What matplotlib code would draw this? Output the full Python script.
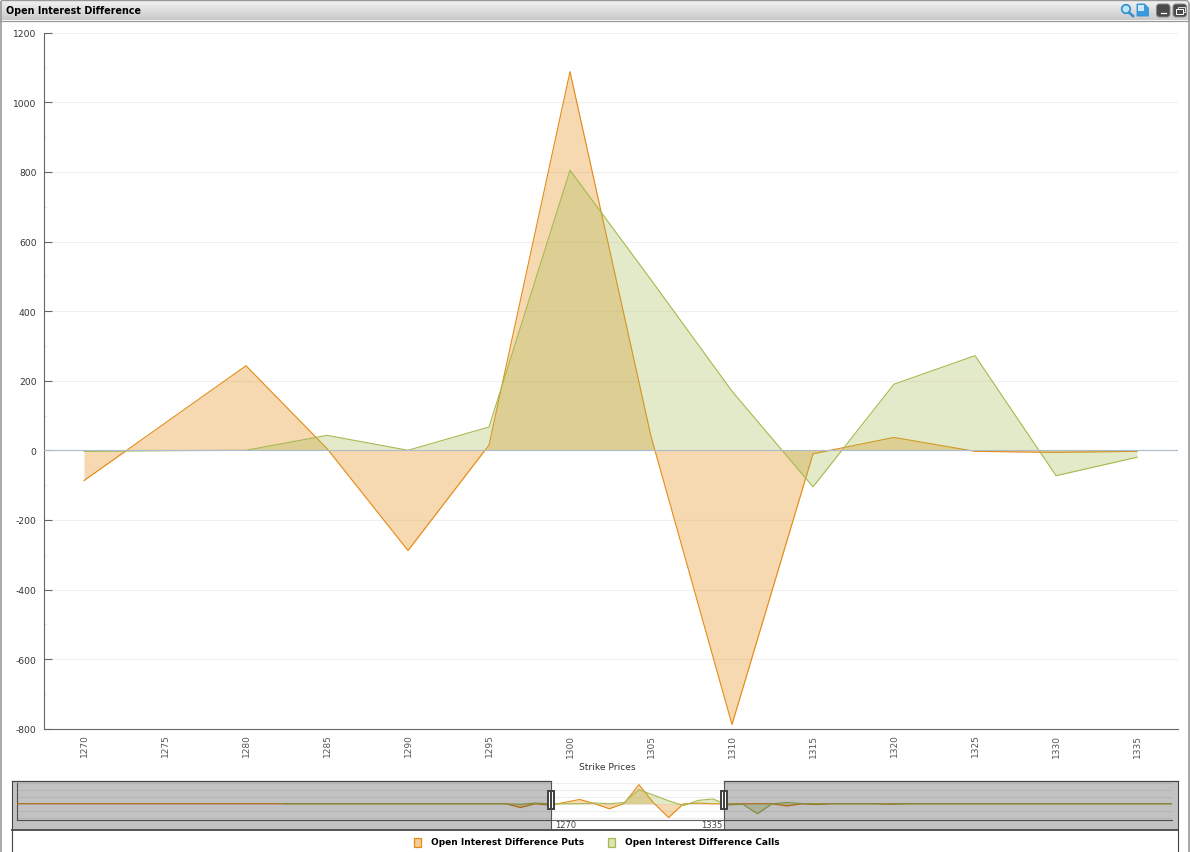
import numpy as np
import matplotlib
matplotlib.use("Agg")
import matplotlib.pyplot as plt
from matplotlib.patches import Rectangle, FancyBboxPatch, Circle, Polygon

W, H = 1190, 853
ORANGE = '#E48A13'
GREEN = '#A5BA4E'
PUT_ALPHA = 0.33
CALL_ALPHA = 0.30

title = 'Open Interest Difference'
x_label = 'Strike Prices'
put_label = 'Open Interest Difference Puts'
call_label = 'Open Interest Difference Calls'

strikes = [1270, 1275, 1280, 1285, 1290, 1295, 1300, 1305, 1310, 1315, 1320, 1325, 1330, 1335]
puts = [-87, 78, 243, 5, -288, 15, 1088, 40, -788, -10, 37, -3, -6, -3]
calls = [-3, -1, 0, 43, 0, 67, 805, 490, 170, -105, 190, 272, -73, -20]

y_major = [-800, -600, -400, -200, 0, 200, 400, 600, 800, 1000, 1200]
y_minor = [-700, -500, -300, -100, 100, 300, 500, 700, 900, 1100]

# overview strip covers the whole chain, calls only start at 1180
mini_strikes = list(range(1090, 1485, 5))
mini_puts = [0] * 34 + [-220, 0] + puts + [0, 0, -130, 0, -45, 0, 0, 0, 0, -30] + [0] * 19
mini_calls = [np.nan] * 18 + [0] * 16 + [-30, 40] + calls + [-570, 0, 70, 10] + [0] * 25
mini_grid = [-800, -400, 0, 400, 800, 1200]
range_labels = ['1270', '1335']

plt.rcParams['font.family'] = ['DejaVu Sans']
plt.rcParams['axes.unicode_minus'] = False


def px_axes(fig, left, top, right, bottom):
    return fig.add_axes([left / W, 1 - bottom / H, (right - left) / W, (bottom - top) / H])


def draw_series(ax, x, y, color, alpha, lw=0.8, zorder=3):
    ax.fill_between(x, y, 0, color=color, alpha=alpha, linewidth=0, zorder=zorder)
    ax.plot(x, y, color=color, lw=lw, zorder=zorder + 0.5)


fig = plt.figure(figsize=(W / 100, H / 100), dpi=100, facecolor='white')

# main chart
ax = px_axes(fig, 43.5, 33.7, 1177.5, 729.7)
draw_series(ax, strikes, puts, ORANGE, PUT_ALPHA)
draw_series(ax, strikes, calls, GREEN, CALL_ALPHA, zorder=4)
ax.axhline(0, color='#ADBCCB', lw=0.8, zorder=5)
ax.set_xlim(strikes[0] - 2.5, strikes[-1] + 2.5)
ax.set_ylim(-800, 1200)
ax.set_xticks(strikes)
ax.set_xticklabels(strikes, rotation=90, fontsize=6.5, color='#555555')
ax.set_yticks(y_major)
ax.set_yticks(y_minor, minor=True)
ax.tick_params(axis='x', length=0, pad=3.5)
ax.tick_params(axis='y', which='major', direction='in', length=6, width=0.8, color='#666666',
               labelsize=6.6, labelcolor='#333333', pad=5)
ax.tick_params(axis='y', which='minor', direction='in', length=1.5, width=0.7, color='#DDDDDD')
ax.grid(axis='y', which='major', color='#F0F0F0', lw=0.8, zorder=0)
ax.set_axisbelow(True)
for side in ('top', 'right'):
    ax.spines[side].set_visible(False)
for side in ('left', 'bottom'):
    ax.spines[side].set_color('#666666')
    ax.spines[side].set_linewidth(0.8)

# overview strip
mini = px_axes(fig, 17, 783.7, 1172, 821.2)
draw_series(mini, mini_strikes, mini_puts, ORANGE, PUT_ALPHA, lw=0.8)
draw_series(mini, mini_strikes, mini_calls, GREEN, CALL_ALPHA, lw=0.8, zorder=4)
mini.set_xlim(mini_strikes[0], mini_strikes[-1])
mini.set_ylim(-940, 1200)
mini.set_xticks([])
mini.set_yticks(mini_grid)
mini.set_yticklabels([])
mini.tick_params(length=0)
mini.grid(axis='y', color='#EEEEEE', lw=0.8, zorder=0)
mini.set_axisbelow(True)
mini.patch.set_alpha(0)
for side in ('top', 'right'):
    mini.spines[side].set_visible(False)
for side in ('left', 'bottom'):
    mini.spines[side].set_color('#666666')
    mini.spines[side].set_linewidth(0.8)

# window chrome, in screenshot pixels
over = fig.add_axes([0, 0, 1, 1], zorder=10)
over.set_xlim(0, W)
over.set_ylim(H, 0)
over.axis('off')
over.patch.set_alpha(0)

grad = np.linspace(0.96, 0.79, 32).reshape(-1, 1)
over.imshow(grad, extent=(0, W, 21, 0), cmap='gray', vmin=0, vmax=1, aspect='auto', zorder=1)
over.set_xlim(0, W)
over.set_ylim(H, 0)
over.plot([0.5, 0.5], [3, H], color='#999999', lw=1.2, zorder=2)
over.plot([1188.5, 1188.5], [3, H], color='#999999', lw=1.2, zorder=2)
over.plot([3, 1186], [0.5, 0.5], color='#999999', lw=1, zorder=2)
over.plot([0, W], [21.5, 21.5], color='#999999', lw=0.9, zorder=2)
# rounded top corners
over.add_patch(Polygon([(0, 0), (3.5, 0), (0, 3.5)], fc='white', ec='none', zorder=2))
over.add_patch(Polygon([(W, 0), (1185.5, 0), (1189, 3.5), (W, 3.5)], fc='white', ec='none', zorder=2))
over.plot([0.5, 3], [3, 0.5], color='#999999', lw=1, zorder=3)
over.plot([1186, 1188.5], [0.5, 3], color='#999999', lw=1, zorder=3)
over.text(6, 11, title, fontsize=6.9, fontweight='bold', color='black', va='center', ha='left', zorder=3)

# toolbar icons
over.add_patch(Circle((1126, 10), 4.3, fc='#BFE3F7', ec='#2F8FD0', lw=1.2, zorder=3))
over.plot([1129, 1133], [13.5, 17], color='#2F8FD0', lw=1.8, zorder=3)
over.add_patch(Polygon([(1137, 5), (1144.5, 5), (1148.5, 9), (1148.5, 17), (1137, 17)],
                       fc='#3C9BDC', ec='#2F8FD0', lw=0.6, zorder=3))
over.add_patch(Rectangle((1138, 6), 6, 6, fc='#CFE9F9', ec='none', zorder=4))
for bx, mark in ((1156.5, 'min'), (1173, 'max')):
    over.add_patch(FancyBboxPatch((bx, 5), 13.5, 13, boxstyle='round,pad=0,rounding_size=3',
                                  fc='#4A4A4A', ec='#888888', lw=0.7, zorder=3))
    if mark == 'min':
        over.plot([bx + 4, bx + 9.5], [13.5, 13.5], color='white', lw=0.9, zorder=4)
    else:
        over.add_patch(Rectangle((bx + 4.5, 7.5), 7, 5, fc='none', ec='#DDDDDD', lw=0.7, zorder=4))
        over.add_patch(Rectangle((bx + 2.5, 10), 7, 5, fc='#4A4A4A', ec='white', lw=0.7, zorder=5))

over.text(607.5, 767.5, x_label, fontsize=6.6, color='#333333', ha='center', va='center', zorder=3)

# shaded parts of the overview and its frame
over.add_patch(Rectangle((11.5, 781.5), 539.5, 48.5, fc='black', alpha=0.24, ec='none', zorder=2))
over.add_patch(Rectangle((724, 781.5), 453.5, 48.5, fc='black', alpha=0.24, ec='none', zorder=2))
over.plot([11.5, 551], [781.5, 781.5], color='#444444', lw=0.9, zorder=3)
over.plot([724, 1177.5], [781.5, 781.5], color='#444444', lw=0.9, zorder=3)
over.plot([11.5, 1177.5], [830.5, 830.5], color='#444444', lw=1.3, zorder=3)
over.plot([11.5, 11.5], [781.5, H], color='#444444', lw=0.8, zorder=3)
over.plot([1177.5, 1177.5], [781.5, H], color='#444444', lw=0.8, zorder=3)
over.plot([551, 551], [781.5, 830], color='#555555', lw=0.8, zorder=3)
over.plot([724, 724], [781.5, 830], color='#555555', lw=0.8, zorder=3)
for hx in (551, 724):
    over.add_patch(Rectangle((hx - 4, 791), 8, 20, fc='#444444', ec='none', zorder=4))
    over.add_patch(Rectangle((hx - 2, 793), 1.3, 16, fc='white', ec='none', zorder=5))
    over.add_patch(Rectangle((hx + 0.7, 793), 1.3, 16, fc='white', ec='none', zorder=5))
over.text(555.5, 826, range_labels[0], fontsize=6.0, color='#444444', ha='left', va='center', zorder=3)
over.text(722, 826, range_labels[1], fontsize=6.0, color='#444444', ha='right', va='center', zorder=3)

# legend
for sx, col, lab, alpha in ((413, ORANGE, put_label, PUT_ALPHA), (607, GREEN, call_label, CALL_ALPHA)):
    over.add_patch(Rectangle((sx + 0.5, 838.5), 7.5, 9, fc=col, alpha=alpha + 0.1, ec='none', zorder=3))
    over.add_patch(Rectangle((sx + 0.5, 838.5), 7.5, 9, fc='none', ec=col, lw=0.9, zorder=3))
    over.text(sx + 18, 843, lab, fontsize=6.5, fontweight='bold', color='black', ha='left', va='center', zorder=3)

fig.savefig('out.png', dpi=100)
